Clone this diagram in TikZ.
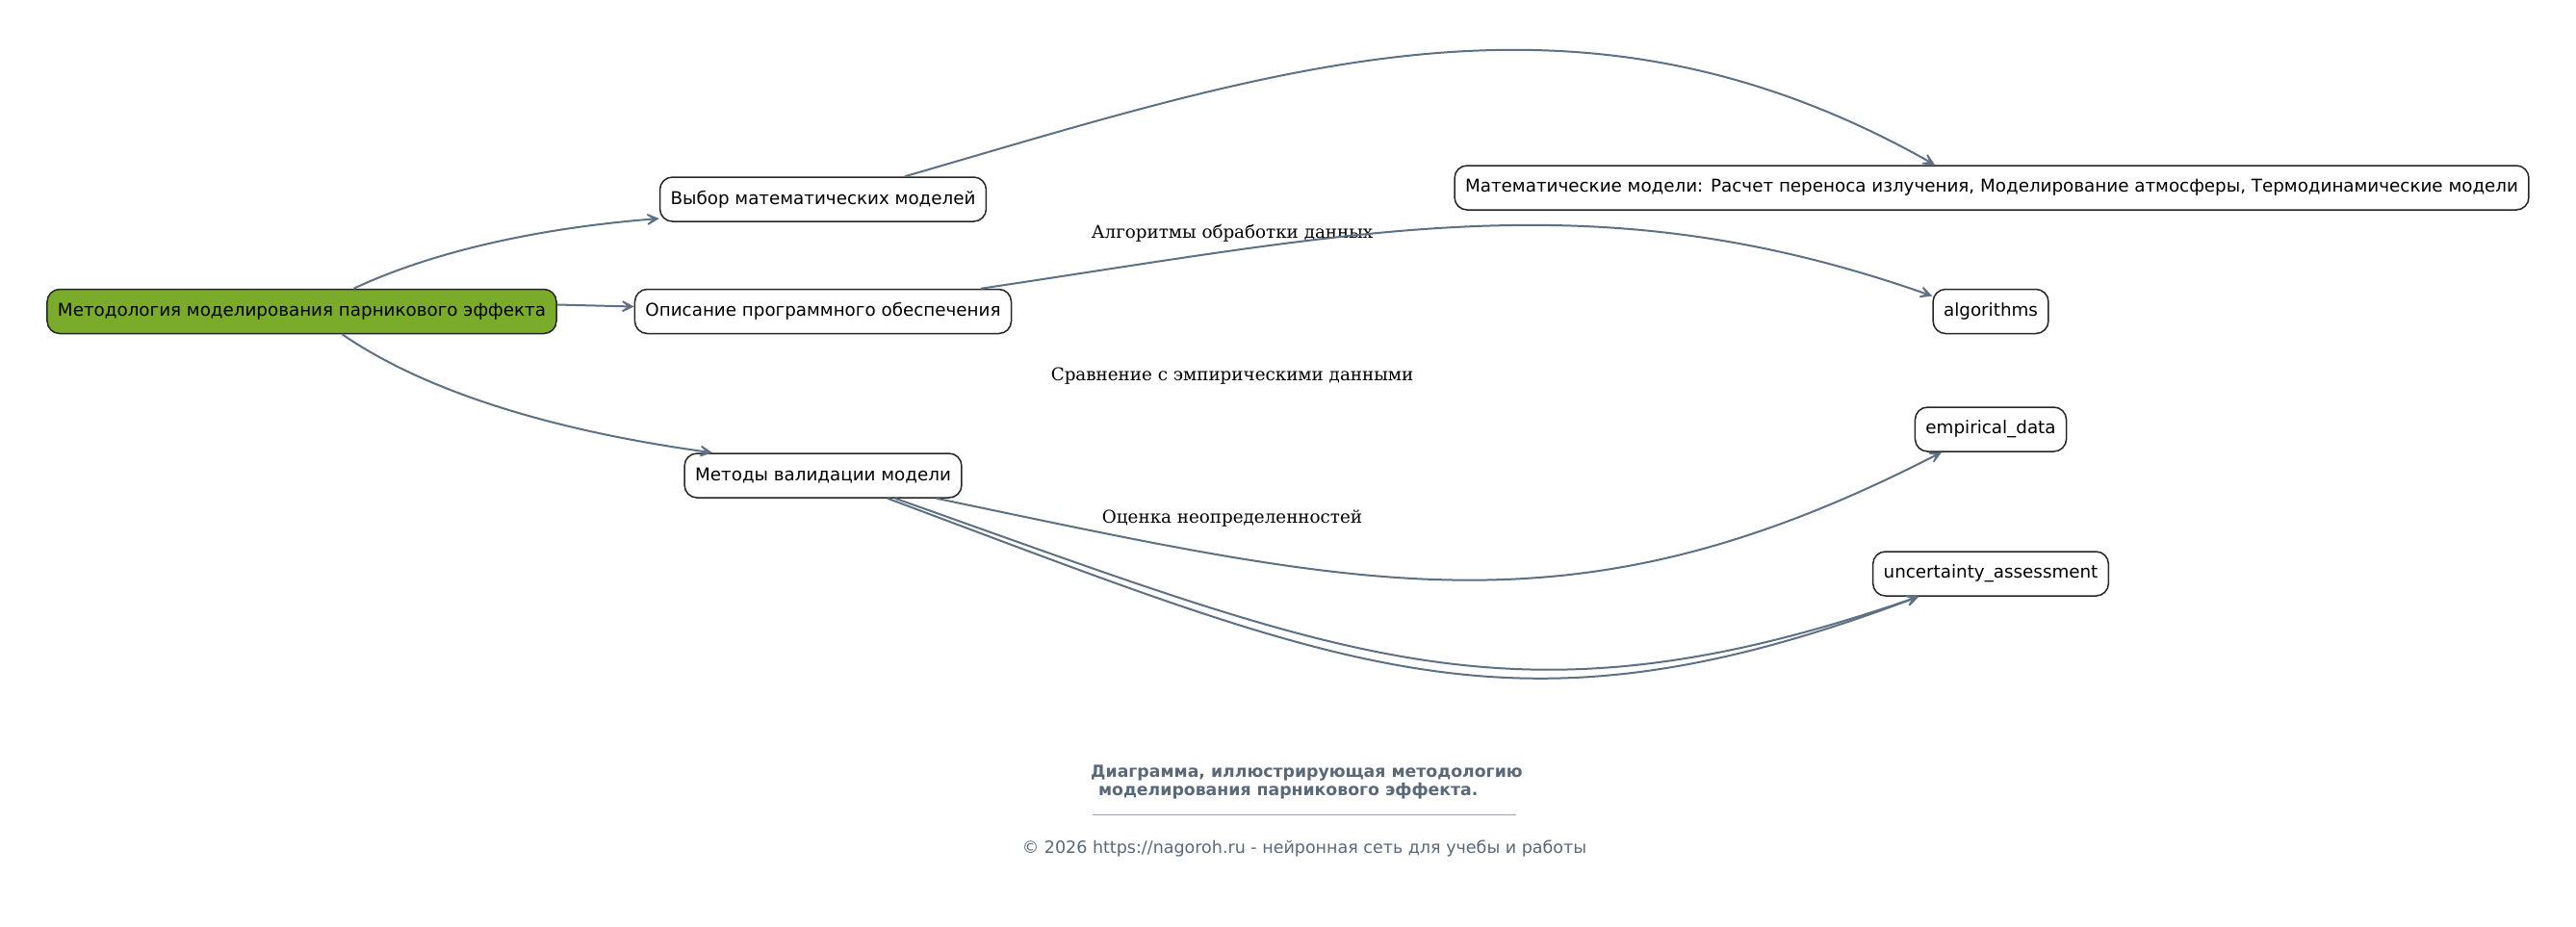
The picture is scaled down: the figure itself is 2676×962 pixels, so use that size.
\documentclass[tikz,border=0pt]{standalone}
\usepackage{fontspec}
\setmainfont{DejaVu Sans}
\newfontfamily\labelserif{DejaVu Serif}
\usetikzlibrary{arrows.meta,positioning}
\definecolor{edgegray}{HTML}{5F7083}
\definecolor{rootgreen}{HTML}{7AAB2B}
\definecolor{captiongray}{HTML}{5A6878}
\definecolor{rulegray}{HTML}{9AA8B6}

\begin{document}
\begin{tikzpicture}[
    x=1pt,
    y=-1pt,
    >={Stealth[length=20pt,width=20pt,inset=13.5pt]},
    box/.style={
        draw=black!85,
        line width=1.5pt,
        rounded corners=13pt,
        fill=white,
        minimum height=46pt,
        inner xsep=11pt,
        font=\fontsize{18.3}{22}\selectfont
    },
    rootbox/.style={
        box,
        fill=rootgreen
    },
    edge/.style={->, draw=edgegray, line width=2pt},
    elabel/.style={font=\labelserif\fontsize{18.3}{22}\selectfont},
    caption/.style={
        text=captiongray,
        align=left,
        font=\bfseries\fontsize{17.3}{19}\selectfont
    },
    credit/.style={text=captiongray, font=\fontsize{17.5}{20}\selectfont}
]
\useasboundingbox[fill=white] (0,0) rectangle (2676,962);

% main nodes
\node[rootbox] (root) at (313.5,323.5) {Методология моделирования парникового эффекта};
\node[box] (vybor) at (855,207) {Выбор математических моделей};
\node[box] (opisanie) at (855,323.5) {Описание программного обеспечения};
\node[box] (metody) at (855,494) {Методы валидации модели};

% right column
\node[box] (matmodels) at (2069,195)
{Математические модели: Расчет переноса излучения, Моделирование атмосферы, Термодинамические модели};
\node[box] (algorithms) at (2068,323.5) {algorithms};
\node[box] (empirical) at (2068,446) {empirical\_data};
\node[box] (uncertainty) at (2068,596) {uncertainty\_assessment};

% edge labels
\node[elabel] (lblalgo) at (1280,242) {Алгоритмы обработки данных};
\node[elabel] (lblemp) at (1280,391) {Сравнение с эмпирическими данными};
\node[elabel] (lblunc) at (1280,539) {Оценка неопределенностей};

% connectors
\draw[edge] ([xshift=54pt]root.north) .. controls (420,275) and (520,240) .. ([yshift=-20pt]vybor.west);
\draw[edge] ([yshift=7pt]root.east) -- ([yshift=5pt]opisanie.west);
\draw[edge] ([xshift=42pt]root.south) .. controls (410,385) and (520,440) .. ([xshift=-115pt]metody.north);
\draw[edge] ([xshift=85pt]vybor.north) .. controls (1330,70) and (1640,-38) .. ([xshift=-59pt]matmodels.north);
\draw[edge] ([xshift=164pt]opisanie.north) .. controls (1419,240) and (1659,185) .. ([yshift=16pt]algorithms.west);
\draw[edge] ([xshift=118pt]metody.south) .. controls (1423,612) and (1637,665) .. ([xshift=-51pt]empirical.south);
\draw[edge] ([xshift=67pt]metody.south) .. controls (1402,697) and (1573,778) .. ([xshift=-75pt]uncertainty.south);
\draw[edge] ([xshift=75pt]metody.south) .. controls (1400,684) and (1573,765) .. ([xshift=-75pt]uncertainty.south);

% caption
\node[caption, anchor=north west, inner sep=0pt] (title) at (1133,795)
{Диаграмма, иллюстрирующая методологию\\\hspace{0.45em}моделирования парникового эффекта.};
\draw[rulegray, line width=1pt] (1135,846) -- (1575,846);
\node[credit] (copyright) at (1355,882) {© 2026 https://nagoroh.ru - нейронная сеть для учебы и работы};

\end{tikzpicture}
\end{document}
